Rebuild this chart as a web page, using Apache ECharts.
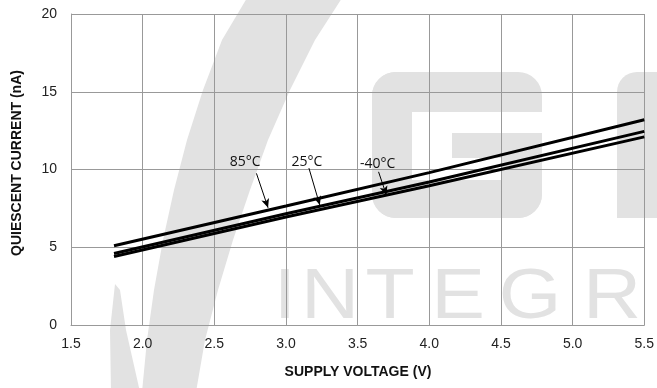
<!DOCTYPE html>
<html>
<head>
<meta charset="utf-8">
<script src="https://cdn.jsdelivr.net/npm/echarts@6/dist/echarts.min.js"></script>
<style>
html,body{margin:0;padding:0;background:#fff;}
#chart{width:657px;height:388px;}
</style>
</head>
<body>
<div id="chart"></div>
<script>
// ---- Data ----
const voltage = [1.8, 3.0, 4.0, 5.5];          // SUPPLY VOLTAGE (V)
const current85 = [5.1, 7.65, 9.8, 13.2];      // 85°C, nA
const current25 = [4.6, 7.15, 9.2, 12.45];     // 25°C, nA
const currentM40 = [4.4, 6.95, 8.95, 12.1];    // -40°C, nA
const xTicks = [1.5, 2.0, 2.5, 3.0, 3.5, 4.0, 4.5, 5.0, 5.5];
const yTicks = [0, 5, 10, 15, 20];
const tempNames = ['85°C', '25°C', '-40°C'];
// annotation anchors in data units
const labelAt = [[2.715, 10.45], [3.146, 10.45], [3.639, 10.38]];
const arrowFrom = [[2.794, 9.75], [3.160, 10.09], [3.646, 9.85]];
const arrowTo = [[2.875, 7.54], [3.236, 7.71], [3.701, 8.35]];

const chart = echarts.init(document.getElementById('chart'), null, {renderer: 'canvas'});

function pairs(xs, ys) { return xs.map((x, i) => [x, ys[i]]); }

const wm = '#e2e2e2';
const watermark = [
  { type: 'polygon', z: -1, silent: true,
    shape: { points: [[247,-2],[222,40],[203,90],[187,140],[174,190],[163,240],[154,290],[147,340],[142,392],
                      [196,392],[205,340],[218,290],[233,240],[250,190],[268,140],[290,90],[315,40],[342,-2]] },
    style: { fill: wm } },
  { type: 'polygon', z: -1, silent: true,
    shape: { points: [[115,284],[110,330],[111,392],[140,392],[126,330],[120,290]] },
    style: { fill: wm } },
  // "G"
  { type: 'rect', z: -1, silent: true, shape: { x: 372, y: 72, width: 170, height: 40, r: [24,24,0,0] }, style: { fill: wm } },
  { type: 'rect', z: -1, silent: true, shape: { x: 372, y: 72, width: 40, height: 146, r: [24,0,0,24] }, style: { fill: wm } },
  { type: 'rect', z: -1, silent: true, shape: { x: 372, y: 180, width: 170, height: 38, r: [0,0,24,24] }, style: { fill: wm } },
  { type: 'rect', z: -1, silent: true, shape: { x: 502, y: 133, width: 40, height: 85, r: [0,0,24,0] }, style: { fill: wm } },
  { type: 'rect', z: -1, silent: true, shape: { x: 452, y: 133, width: 90, height: 25 }, style: { fill: wm } },
  // "L"
  { type: 'rect', z: -1, silent: true, shape: { x: 617, y: 72, width: 45, height: 146, r: [20,0,0,0] }, style: { fill: wm } }
];
const letters = ['I', 'N', 'T', 'E', 'G', 'R'];
const letterX = [285, 330, 390, 458, 530, 612];
letters.forEach((ch, i) => {
  watermark.push({ type: 'text', z: -1, silent: true, x: letterX[i], y: 299, scaleX: 1.15,
    style: { text: ch, fill: wm, font: '70px "Liberation Sans"', align: 'center', verticalAlign: 'middle' } });
});

const axisFont = { color: '#222', fontSize: 14, fontFamily: '"Liberation Sans", Arial, sans-serif' };

const option = {
  backgroundColor: '#ffffff',
  animation: false,
  grid: { left: 71, right: 9, top: 14, bottom: 63, containLabel: false },
  xAxis: {
    type: 'value', min: xTicks[0], max: xTicks[xTicks.length - 1], interval: 0.5,
    axisLine: { show: true, lineStyle: { color: '#999', width: 1 } },
    axisTick: { show: false },
    splitLine: { show: true, lineStyle: { color: '#999', width: 1 } },
    axisLabel: Object.assign({ margin: 12, formatter: v => v.toFixed(1) }, axisFont)
  },
  yAxis: {
    type: 'value', min: yTicks[0], max: yTicks[yTicks.length - 1], interval: 5,
    axisLine: { show: true, lineStyle: { color: '#999', width: 1 } },
    axisTick: { show: false },
    splitLine: { show: true, lineStyle: { color: '#999', width: 1 } },
    axisLabel: Object.assign({ margin: 14 }, axisFont)
  },
  series: [
    { name: tempNames[0], type: 'line', data: pairs(voltage, current85), showSymbol: false, symbol: 'none', lineStyle: { color: '#000', width: 3 }, z: 5 },
    { name: tempNames[1], type: 'line', data: pairs(voltage, current25), showSymbol: false, symbol: 'none', lineStyle: { color: '#000', width: 3 }, z: 5 },
    { name: tempNames[2], type: 'line', data: pairs(voltage, currentM40), showSymbol: false, symbol: 'none', lineStyle: { color: '#000', width: 3 }, z: 5,
      markLine: {
        silent: true, symbol: ['none', 'arrow'], symbolSize: [6, 9],
        lineStyle: { color: '#000', width: 1, type: 'solid' }, label: { show: false },
        data: arrowFrom.map((p, i) => [{ coord: p }, { coord: arrowTo[i] }])
      } }
  ],
  graphic: watermark
};
chart.setOption(option);

// text annotations and axis titles
const extra = [];
tempNames.forEach((t, i) => {
  const p = chart.convertToPixel({ gridIndex: 0 }, labelAt[i]);
  extra.push({ type: 'text', x: p[0], y: p[1], z: 10, silent: true,
    style: { text: t, fill: '#111', font: '14px "Open Sans", sans-serif', align: 'center', verticalAlign: 'middle' } });
});
extra.push({ type: 'text', x: 358, y: 372, z: 10, silent: true,
  style: { text: 'SUPPLY VOLTAGE (V)', fill: '#111', font: 'bold 14px "Liberation Sans", Arial, sans-serif', align: 'center', verticalAlign: 'middle' } });
extra.push({ type: 'text', x: 17, y: 163, rotation: Math.PI / 2, z: 10, silent: true,
  style: { text: 'QUIESCENT CURRENT (nA)', fill: '#111', font: 'bold 14px "Liberation Sans", Arial, sans-serif', align: 'center', verticalAlign: 'middle' } });
chart.setOption({ graphic: watermark.concat(extra) });
</script>
</body>
</html>
